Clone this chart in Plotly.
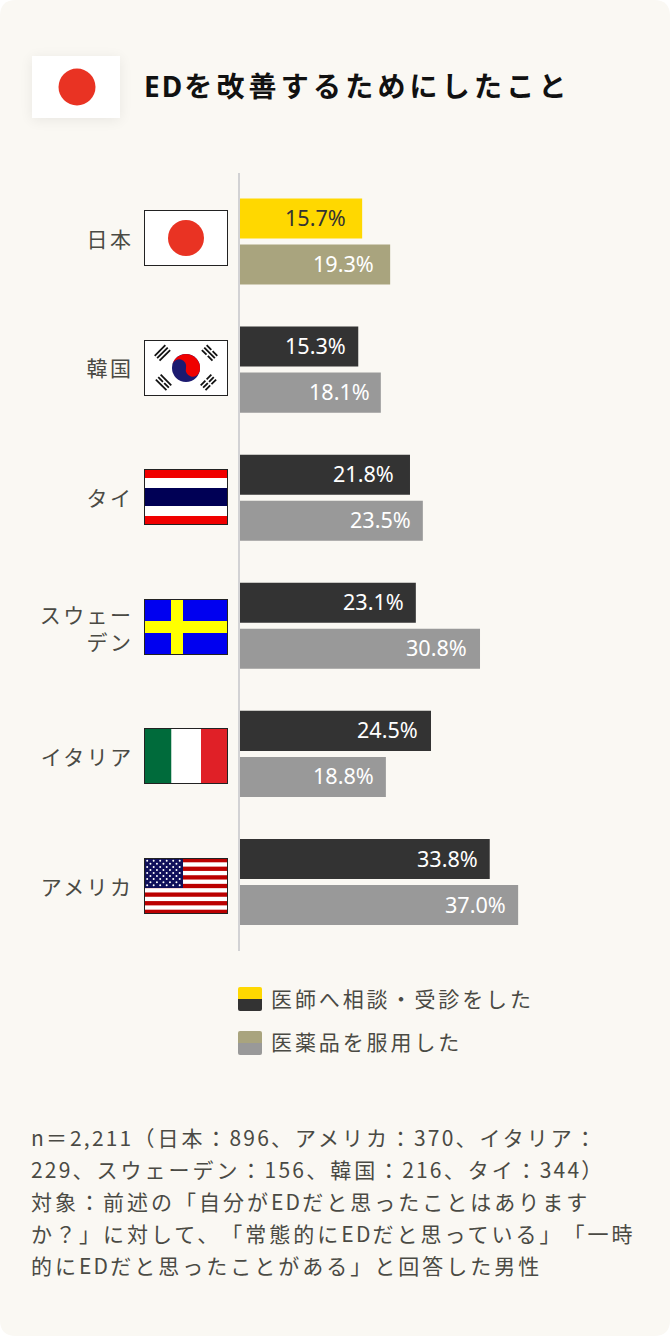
import base64, json
import plotly.graph_objects as go

W, H = 670, 1336

# ---------- data ----------
countries = ["日本", "韓国", "タイ", "スウェーデン", "イタリア", "アメリカ"]
country_lines = ["日本", "韓国", "タイ", "スウェー<br>デン", "イタリア", "アメリカ"]
consult_values = [15.7, 15.3, 21.8, 23.1, 24.5, 33.8]
medicine_values = [19.3, 18.1, 23.5, 30.8, 18.8, 37.0]
# drawn bar lengths (in the source the bars are not all strictly to scale)
consult_lengths = [15.7, 15.2, 21.85, 22.6, 24.55, 32.1]
medicine_lengths = [19.3, 18.1, 23.5, 30.85, 18.75, 35.75]
series_names = ["医師へ相談・受診をした", "医薬品を服用した"]
title = "EDを改善するためにしたこと"
footer_lines = [
    "n＝2,211（日本：896、アメリカ：370、イタリア：",
    "229、スウェーデン：156、韓国：216、タイ：344）",
    "対象：前述の「自分がEDだと思ったことはあります",
    "か？」に対して、「常態的にEDだと思っている」「一時",
    "的にEDだと思ったことがある」と回答した男性",
]

# ---------- style ----------
FONT = "'Noto Sans', 'Noto Sans CJK JP', sans-serif"
FONT_CJK = "'Noto Sans CJK JP', 'Noto Sans', sans-serif"
BG = "#faf8f3"
TXT = "#4a4a44"
YEL, OLIVE, DARK, GRAY = "#ffd800", "#a9a47e", "#333333", "#999999"
consult_colors = [YEL] + [DARK] * 5
medicine_colors = [OLIVE] + [GRAY] * 5
consult_text = ["#333333"] + ["#ffffff"] * 5
medicine_text = ["#ffffff"] * 6
consult_pad = [14, 10, 14, 10, 11, 10]
medicine_pad = [14, 9, 10, 11, 10, 10]

SCALE = 7.78      # px per percent
X0 = 240          # px of zero
ROW0, ROW = 241.5, 128.1
flag_tops = [210, 340, 469, 599, 728, 858]
label_y = [239.5, 368.5, 498, 628, 757, 886.5]

def px(x): return x / W
def py(y): return 1 - y / H

def rrect(x0, y0, x1, y1, r=(0, 0, 0, 0)):
    tl, tr, br, bl = r
    X0_, X1_ = px(x0), px(x1)
    Y0_, Y1_ = py(y0), py(y1)
    rx = lambda v: v / W
    ry = lambda v: v / H
    return (f"M{X0_+rx(tl)},{Y0_} L{X1_-rx(tr)},{Y0_} Q{X1_},{Y0_} {X1_},{Y0_-ry(tr)} "
            f"L{X1_},{Y1_+ry(br)} Q{X1_},{Y1_} {X1_-rx(br)},{Y1_} "
            f"L{X0_+rx(bl)},{Y1_} Q{X0_},{Y1_} {X0_},{Y1_+ry(bl)} "
            f"L{X0_},{Y0_-ry(tl)} Q{X0_},{Y0_} {X0_+rx(tl)},{Y0_} Z")

# ---------- flags ----------
def svg(body, w=84, h=56, border=True, vb=None):
    b = f'<rect x="0.5" y="0.5" width="{w-1}" height="{h-1}" fill="none" stroke="#222" stroke-width="1"/>' if border else ""
    vb = vb or f"0 0 {w} {h}"
    s = f'<svg xmlns="http://www.w3.org/2000/svg" width="{w}" height="{h}" viewBox="{vb}">{body}{b}</svg>'
    return "data:image/svg+xml;base64," + base64.b64encode(s.encode()).decode()

def rect(x, y, w, h, c): return f'<rect x="{x}" y="{y}" width="{w}" height="{h}" fill="{c}"/>'

flag_jp = rect(0, 0, 84, 56, "#fff") + '<circle cx="42" cy="28" r="18" fill="#e93323"/>'

def trigram(cx, cy, ang, pattern):
    out = f'<g transform="translate({cx},{cy}) rotate({ang})" fill="#111">'
    for i, broken in enumerate(pattern):
        yy = -4.3 + i * 3.4 - 0.8
        if broken:
            out += f'<rect x="-7.5" y="{yy}" width="6.6" height="1.8"/><rect x="0.9" y="{yy}" width="6.6" height="1.8"/>'
        else:
            out += f'<rect x="-7.5" y="{yy}" width="15" height="1.8"/>'
    return out + "</g>"

flag_kr = (rect(0, 0, 84, 56, "#fff")
    + '<circle cx="42" cy="28" r="14" fill="#1c1a70"/>'
    + '<path d="M28,28 A14,14 0 0 1 56,28 A7,7 0 0 1 42,28 A7,7 0 0 0 28,28 Z" fill="#f00000" transform="rotate(15 42 28)"/>'
    + trigram(19, 13.5, -45, [0, 0, 0]) + trigram(65, 13.5, 45, [1, 0, 1])
    + trigram(19, 43, 45, [0, 1, 0]) + trigram(65, 43, -45, [1, 1, 1]))

flag_th = (rect(0, 0, 84, 56, "#f00000") + rect(0, 9, 84, 38, "#fff") + rect(0, 19, 84, 18, "#000055"))

flag_se = (rect(0, 0, 84, 56, "#0000f0") + rect(27, 0, 12, 56, "#ffff00") + rect(0, 22, 84, 12, "#ffff00"))

flag_it = rect(0, 0, 27.5, 56, "#006b3b") + rect(27.5, 0, 29.5, 56, "#fff") + rect(57, 0, 27, 56, "#e02027")

flag_us = rect(0, 0, 84, 56, "#fff")
for i in range(0, 13, 2):
    flag_us += rect(0, i * 56 / 13, 84, 56 / 13, "#bb0000")
flag_us += rect(0, 0, 39, 30, "#10105a")
for r in range(9):
    n = 6 if r % 2 == 0 else 5
    for c in range(n):
        xx = 3.2 + c * 6.5 + (0 if r % 2 == 0 else 3.25)
        flag_us += f'<circle cx="{xx}" cy="{2.8 + r * 3.05}" r="1" fill="#fff"/>'

flags = [flag_jp, flag_kr, flag_th, flag_se, flag_it, flag_us]

images = []
for body, top in zip(flags, flag_tops):
    images.append(dict(source=svg(body), xref="paper", yref="paper", x=px(144), y=py(top),
                       sizex=84 / W, sizey=56 / H, xanchor="left", yanchor="top",
                       sizing="stretch", layer="above"))

# header flag with soft shadow
head = ('<defs><filter id="b" x="-30%" y="-30%" width="160%" height="160%"><feGaussianBlur stdDeviation="7"/></filter></defs>'
        '<rect x="20" y="22" width="88" height="62" fill="#000" opacity="0.07" filter="url(#b)"/>'
        '<rect x="20" y="20" width="88" height="62" fill="#fff"/>'
        '<circle cx="65" cy="51" r="18.5" fill="#e93323"/>')
images.append(dict(source=svg(head, w=128, h=102, border=False), xref="paper", yref="paper",
                   x=px(12), y=py(36), sizex=128 / W, sizey=102 / H, xanchor="left", yanchor="top",
                   sizing="stretch", layer="above"))

# ---------- chart ----------
fig = go.Figure()
fig.add_bar(name=series_names[0], y=countries, x=consult_lengths, orientation="h",
            marker=dict(color=consult_colors, line_width=0), hoverinfo="skip")
fig.add_bar(name=series_names[1], y=countries, x=medicine_lengths, orientation="h",
            marker=dict(color=medicine_colors, line_width=0), hoverinfo="skip")

ann = []
spacing = []   # (letter spacing px, side kept fixed, latin letter spacing)

def note(text, x, y, size, color, anchor="left", weight=None, ls=0, family=FONT, latin=None):
    ann.append(dict(text=text, xref="paper", yref="paper", x=px(x), y=py(y), xanchor=anchor,
                    yanchor="middle", showarrow=False, align=anchor,
                    font=dict(family=family, size=size, color=color, weight=weight or 400)))
    spacing.append([ls, anchor, latin])

note(title, 142, 86, 28, "#111111", weight=700, ls=4.2, latin=2.0)
for name, y in zip(country_lines, label_y):
    note(name, 133, y, 21, TXT, anchor="right", ls=2.4)
note(series_names[0], 269, 999, 21, TXT, ls=2.9)
note(series_names[1], 269, 1042, 21, TXT, ls=2.9)
for i, line in enumerate(footer_lines):
    note(line, 29, 1137 + i * 32, 21, TXT, ls=3.0, family=FONT_CJK, latin=2.2)

for lens, vals, cols, pads, shift in (
    (consult_lengths, consult_values, consult_text, consult_pad, -23),
    (medicine_lengths, medicine_values, medicine_text, medicine_pad, 23),
):
    for c, l, v, col, pad in zip(countries, lens, vals, cols, pads):
        ann.append(dict(text=f"{v:.1f}%", xref="x", yref="y", x=l, y=c, xshift=-pad, yshift=-shift + 1,
                        xanchor="right", yanchor="middle", showarrow=False,
                        font=dict(family=FONT, size=21.6, color=col)))
        spacing.append([0, "right", None])

shapes = [
    dict(type="path", path=rrect(0, 0, W, H, (16, 16, 16, 16)), xref="paper", yref="paper",
         fillcolor=BG, line_width=0, layer="below"),
    dict(type="line", xref="paper", yref="paper", x0=px(239), x1=px(239), y0=py(173), y1=py(951),
         line=dict(color="#d2d2d4", width=2), layer="above"),
]
for y0, top, bottom in ((987, YEL, DARK), (1031, OLIVE, GRAY)):
    shapes.append(dict(type="path", path=rrect(238, y0, 262, y0 + 12, (2, 2, 0, 0)), xref="paper", yref="paper",
                       fillcolor=top, line_width=0))
    shapes.append(dict(type="path", path=rrect(238, y0 + 12, 262, y0 + 24, (0, 0, 2, 2)), xref="paper", yref="paper",
                       fillcolor=bottom, line_width=0))

fig.update_layout(
    width=W, height=H, autosize=False, margin=dict(l=0, r=0, t=0, b=0, pad=0),
    paper_bgcolor="#ffffff", plot_bgcolor="rgba(0,0,0,0)", showlegend=False,
    barmode="group", bargap=36 / 128, bargroupgap=6 / 46,
    font=dict(family=FONT),
    xaxis=dict(visible=False, range=[-X0 / SCALE, (W - X0) / SCALE], domain=[0, 1], fixedrange=True),
    yaxis=dict(visible=False, type="category", categoryorder="array", categoryarray=countries,
               range=[(H - ROW0) / ROW, -ROW0 / ROW], domain=[0, 1], fixedrange=True),
    annotations=ann, shapes=shapes, images=images,
)

post = """
document.documentElement.style.margin='0';document.body.style.margin='0';document.body.style.overflow='hidden';
var cfg=%s;
document.querySelectorAll('g.annotation').forEach(function(g){
  var i=+g.getAttribute('data-index');var c=cfg[i];if(!c||!c[0])return;
  var t=g.querySelector('text.annotation-text');if(!t)return;
  var b0=t.getBBox();t.style.letterSpacing=c[0]+'px';t.style.textSpacingTrim='space-all';t.style.fontFeatureSettings='"palt" 0,"chws" 0';
  if(c[2]!==null&&!t.querySelector('tspan')){
    var runs=t.textContent.match(/[\\x00-\\x7f]+|[^\\x00-\\x7f]+/g)||[];t.textContent='';
    runs.forEach(function(r){var s=document.createElementNS('http://www.w3.org/2000/svg','tspan');s.textContent=r;
      if(/^[\\x00-\\x7f]/.test(r))s.style.letterSpacing=c[2]+'px';t.appendChild(s);});
  }
  var b1=t.getBBox();
  var dx=(c[1]==='right')?(b0.x+b0.width)-(b1.x+b1.width-c[0]):b0.x-b1.x;
  var nodes=[t].concat(Array.prototype.slice.call(t.querySelectorAll('tspan')));
  nodes.forEach(function(n){if(n.hasAttribute('x'))n.setAttribute('x',parseFloat(n.getAttribute('x'))+dx);});
});
""" % json.dumps(spacing)

fig.write_html("out.html", config=dict(displayModeBar=False, responsive=False), post_script=post)
